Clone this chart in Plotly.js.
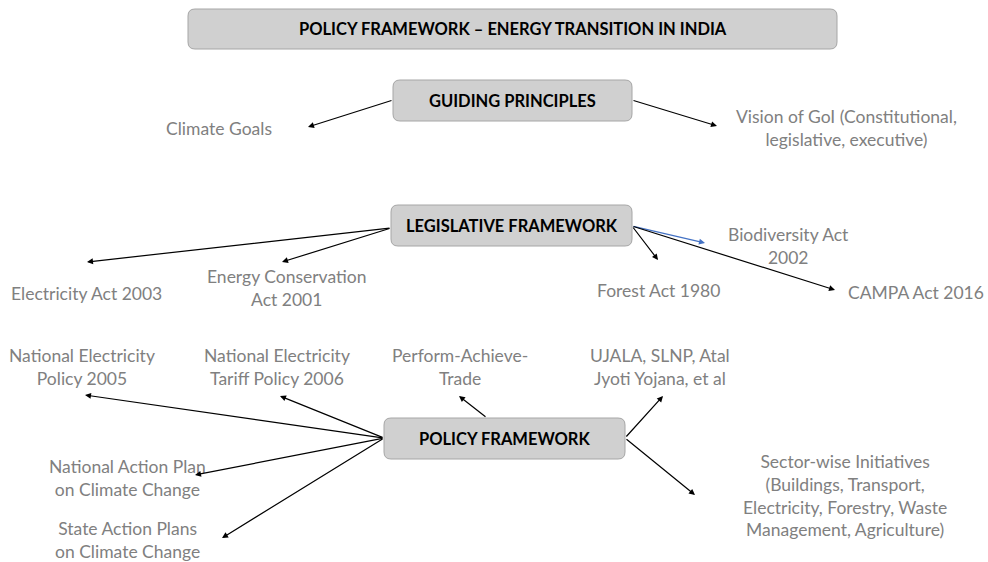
<!DOCTYPE html>
<html><head><meta charset="utf-8">
<script src="https://cdn.plot.ly/plotly-3.0.1.min.js"></script>
<style>html,body{margin:0;padding:0;background:#fff}</style>
</head><body><div id="chart" style="width:988px;height:562px"></div>
<script>
// Diagram content
const boxLabels = ['POLICY FRAMEWORK – ENERGY TRANSITION IN INDIA', 'GUIDING PRINCIPLES', 'LEGISLATIVE FRAMEWORK', 'POLICY FRAMEWORK'];
const leafLabels = [
  'Climate Goals',
  'Vision of GoI (Constitutional,<br>legislative, executive)',
  'Electricity Act 2003',
  'Energy Conservation<br>Act 2001',
  'Forest Act 1980',
  'Biodiversity Act<br>2002',
  'CAMPA Act 2016',
  'National Electricity<br>Policy 2005',
  'National Electricity<br>Tariff Policy 2006',
  'Perform-Achieve-<br>Trade',
  'UJALA, SLNP, Atal<br>Jyoti Yojana, et al',
  'National Action Plan<br>on Climate Change',
  'State Action Plans<br>on Climate Change',
  'Sector-wise Initiatives<br>(Buildings, Transport,<br>Electricity, Forestry, Waste<br>Management, Agriculture)'
];
const leafParent = [1, 1, 2, 2, 2, 2, 2, 3, 3, 3, 3, 3, 3, 3];

// Layout geometry (pixel space)
const boxX0 = [188, 393, 391, 384];
const boxX1 = [837, 632, 632, 625];
const boxY0 = [9, 80, 205, 418];
const boxY1 = [49, 121, 246, 459];
const leafX = [219, 846, 86, 287, 788, 788, 916, 82, 277, 460, 660, 127, 127, 845];
const leafY = [128, 128, 293, 288, 290, 246, 292, 367, 367, 367, 367, 478, 540, 495];
leafX[4] = 658;
const tailX = [393, 632, 391, 391, 632, 632, 632, 384, 384, 487, 625, 384, 384, 625];
const tailY = [100, 100, 228, 228, 226, 226, 226, 438, 438, 418, 438, 438, 438, 438];
const headX = [308, 717, 87, 282, 658, 705, 835, 85, 280, 459, 663, 195, 222, 695];
const headY = [127, 126, 262, 262, 260, 243, 290, 395, 396, 396, 396, 475, 538, 495];
const arrowColor = ['#000','#000','#000','#000','#000','#4472c4','#000','#000','#000','#000','#000','#000','#000','#000'];

function roundRect(x0, y0, x1, y1, r) {
  return `M${x0+r},${y0} L${x1-r},${y0} Q${x1},${y0} ${x1},${y0+r} L${x1},${y1-r} Q${x1},${y1} ${x1-r},${y1} L${x0+r},${y1} Q${x0},${y1} ${x0},${y1-r} L${x0},${y0+r} Q${x0},${y0} ${x0+r},${y0} Z`;
}

const shapes = boxLabels.map((_, i) => ({
  type: 'path', xref: 'x', yref: 'y',
  path: roundRect(boxX0[i], boxY0[i], boxX1[i], boxY1[i], 7),
  fillcolor: '#d0d0d0', line: {color: '#a6a6a6', width: 1}, layer: 'below'
}));

const annotations = [];
boxLabels.forEach((t, i) => {
  annotations.push({
    x: (boxX0[i] + boxX1[i]) / 2, y: (boxY0[i] + boxY1[i]) / 2, xref: 'x', yref: 'y',
    text: '<b>' + t + '</b>', showarrow: false,
    font: {family: 'Lato, "Liberation Sans", sans-serif', size: 16.5, color: '#000'}
  });
});
leafLabels.forEach((t, i) => {
  annotations.push({
    x: leafX[i], y: leafY[i], xref: 'x', yref: 'y', text: t, showarrow: false, align: 'center',
    font: {family: 'Lato, "Open Sans", sans-serif', size: 17.5, color: '#808080'}
  });
});
leafLabels.forEach((t, i) => {
  annotations.push({
    x: headX[i], y: headY[i], ax: tailX[i], ay: tailY[i],
    xref: 'x', yref: 'y', axref: 'x', ayref: 'y', text: '', showarrow: true,
    arrowhead: 2, arrowsize: 1, arrowwidth: 1.2, arrowcolor: arrowColor[i], standoff: 0, startstandoff: 0
  });
});
const layout = {
  width: 988, height: 562, margin: {l: 0, r: 0, t: 0, b: 0},
  paper_bgcolor: '#fff', plot_bgcolor: '#fff',
  xaxis: {range: [0, 988], visible: false, fixedrange: true},
  yaxis: {range: [562, 0], visible: false, fixedrange: true},
  shapes, annotations, showlegend: false
};
Plotly.newPlot('chart', [], layout, {staticPlot: true});
</script></body></html>
